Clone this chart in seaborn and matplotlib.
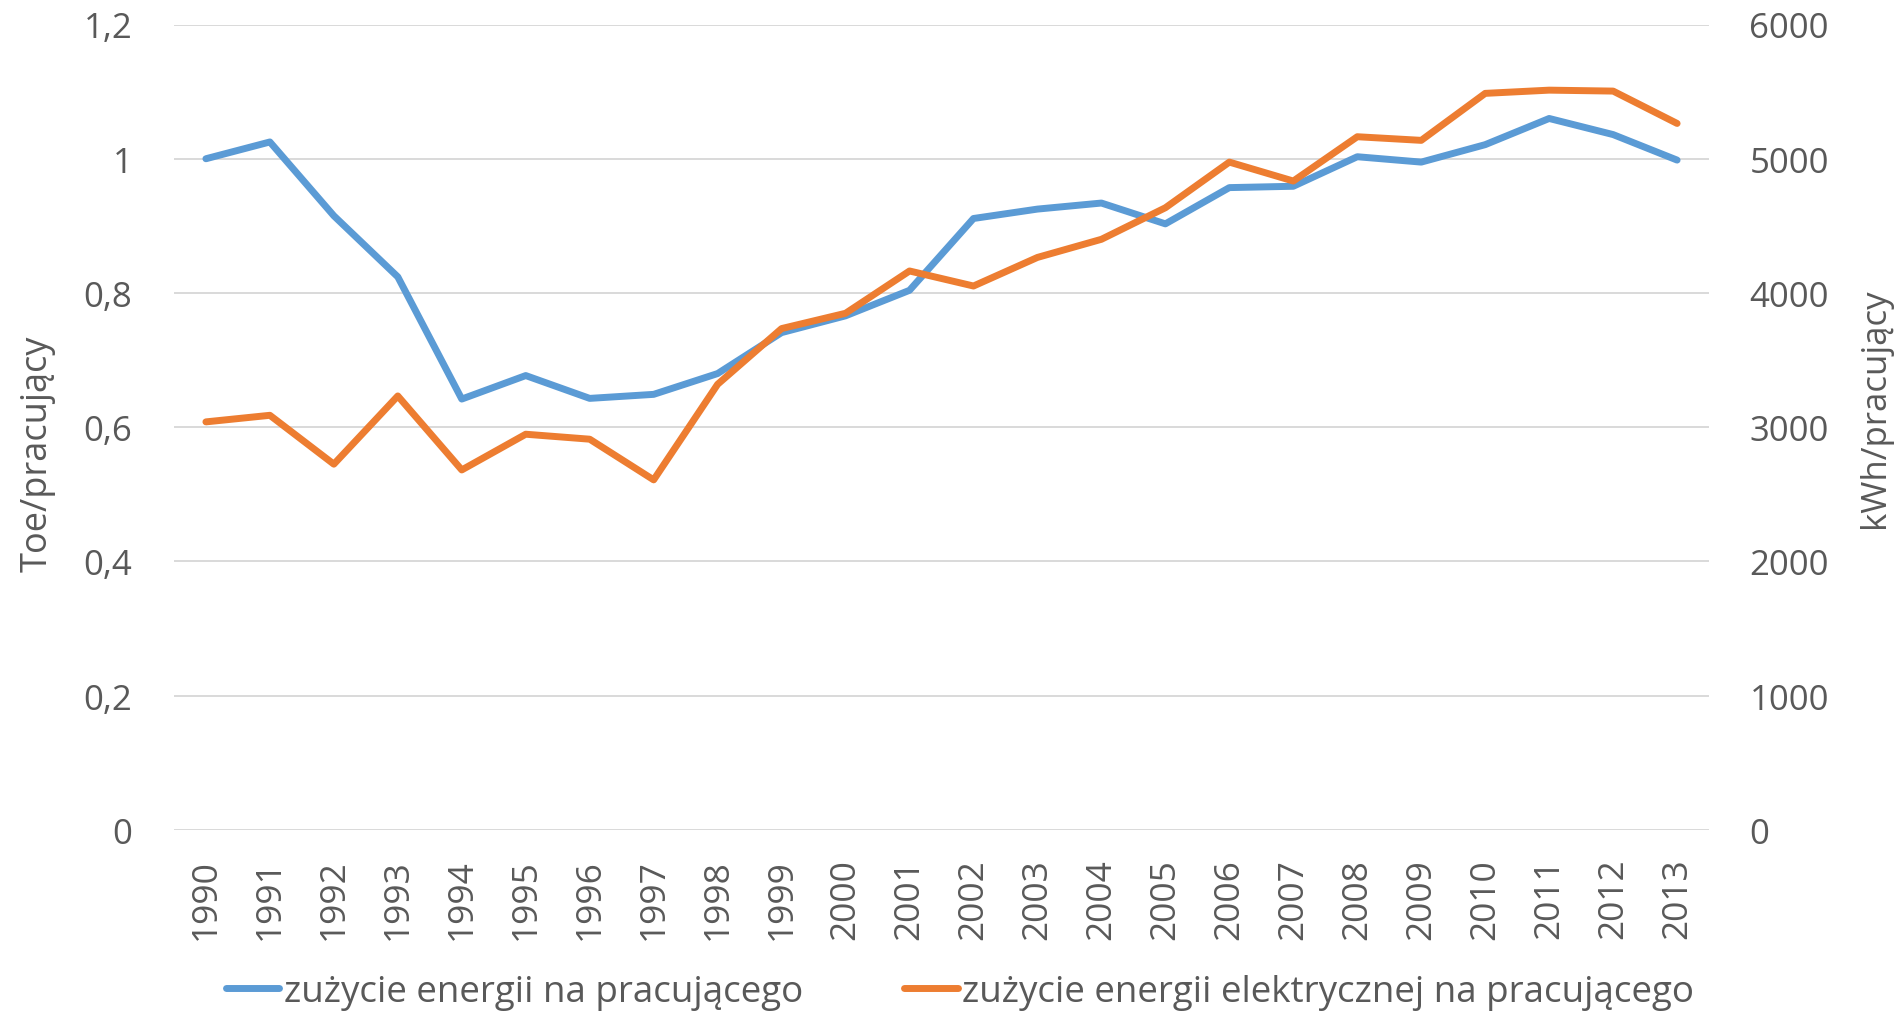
import matplotlib
matplotlib.use("Agg")
import matplotlib.pyplot as plt
import seaborn as sns
import pandas as pd

years = list(range(1990, 2014))
energy_toe = [1.000, 1.025, 0.915, 0.824, 0.642, 0.677, 0.643, 0.649, 0.680,
              0.741, 0.766, 0.804, 0.911, 0.925, 0.934, 0.903, 0.957, 0.959,
              1.003, 0.995, 1.021, 1.060, 1.036, 0.998]
electricity_kwh = [3040, 3089, 2725, 3233, 2682, 2948, 2911, 2608, 3320,
                   3735, 3849, 4164, 4052, 4265, 4400, 4635, 4975, 4834,
                   5164, 5137, 5487, 5511, 5504, 5263]
left_ticks = [0, 0.2, 0.4, 0.6, 0.8, 1.0, 1.2]
left_tick_labels = ["0", "0,2", "0,4", "0,6", "0,8", "1", "1,2"]
right_ticks = [0, 1000, 2000, 3000, 4000, 5000, 6000]
right_tick_labels = ["0", "1000", "2000", "3000", "4000", "5000", "6000"]
series_names = ["zużycie energii na pracującego",
                "zużycie energii elektrycznej na pracującego"]
left_title = "Toe/pracujący"
right_title = "kWh/pracujący"

df = pd.DataFrame({"rok": years, "toe": energy_toe, "kwh": electricity_kwh})

sns.set_theme(style="white")
plt.rcParams["font.family"] = ["Open Sans", "DejaVu Sans"]

TXT = "#595959"
BLUE = "#5B9BD5"
ORANGE = "#ED7D31"

fig = plt.figure(figsize=(19.03, 10.20), dpi=100)
ax = fig.add_axes([0.0914, 0.1853, 0.8067, 0.7897])
ax2 = ax.twinx()

sns.lineplot(data=df, x="rok", y="toe", ax=ax, color=BLUE, linewidth=5.0,
             label=series_names[0], legend=False,
             solid_capstyle="round", solid_joinstyle="round")
sns.lineplot(data=df, x="rok", y="kwh", ax=ax2, color=ORANGE, linewidth=5.0,
             label=series_names[1], legend=False,
             solid_capstyle="round", solid_joinstyle="round")

ax.set_xlim(1989.5, 2013.5)
ax.set_ylim(0, 1.2)
ax2.set_ylim(0, 6000)

ax.set_yticks(left_ticks)
ax.set_yticklabels(left_tick_labels)
ax2.set_yticks(right_ticks)
ax2.set_yticklabels(right_tick_labels)
ax.set_xticks(years)
ax.set_xticklabels([str(y) for y in years], rotation=90)

ax.grid(axis="y", color="#D9D9D9", linewidth=1.4)
ax.grid(axis="x", visible=False)
ax2.grid(False)
ax.set_axisbelow(True)

for a in (ax, ax2):
    for s in a.spines.values():
        s.set_visible(False)
    a.set_xlabel("")
    a.set_ylabel("")

ax.tick_params(axis="y", length=0, pad=30, labelsize=25, labelcolor=TXT)
ax.tick_params(axis="x", length=0, pad=20, labelsize=25.5, labelcolor=TXT)
ax2.tick_params(axis="y", length=0, pad=29, labelsize=25, labelcolor=TXT)

fig.text(38 / 1903, 1 - 454 / 1020, left_title, rotation=90, ha="center",
         va="center", fontsize=26, color=TXT)
fig.text(1875 / 1903, 1 - 408 / 1020, right_title, rotation=90, ha="center",
         va="center", fontsize=25, color=TXT)

h1, l1 = ax.get_legend_handles_labels()
h2, l2 = ax2.get_legend_handles_labels()
leg = fig.legend(h1 + h2, l1 + l2, loc="center", ncol=2,
                 bbox_to_anchor=(960 / 1903, 1 - 993 / 1020), frameon=False,
                 fontsize=26.5, handlelength=1.45, handletextpad=0.12,
                 columnspacing=2.75, labelcolor=TXT, borderaxespad=0)

fig.savefig("out.png", dpi=100, facecolor="white")
